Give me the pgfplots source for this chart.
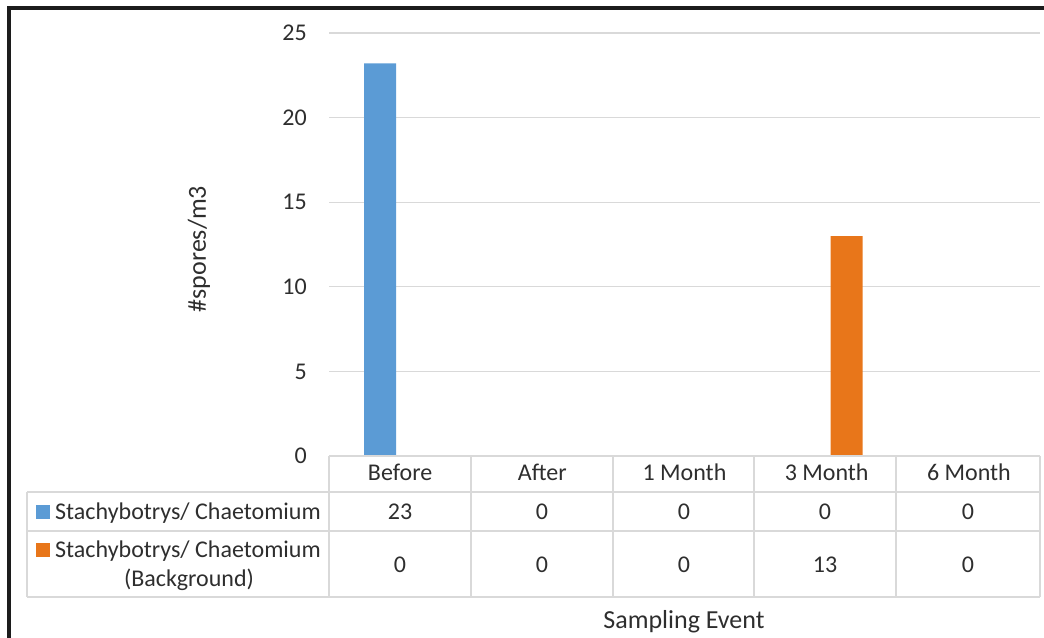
\documentclass[border=0pt]{standalone}
\usepackage{pgfplots}
\pgfplotsset{compat=1.18}
\usepackage{fontspec}
\setmainfont{Carlito}
\definecolor{bblue}{HTML}{5B9BD5}
\definecolor{borange}{HTML}{E8761A}
\definecolor{gridc}{HTML}{D9D9D9}
\definecolor{txt}{HTML}{2E2E2E}
\definecolor{frame}{HTML}{1C1C1C}
\newcommand{\tf}{\fontsize{24bp}{29bp}\selectfont}
\newcommand{\lf}{\fontsize{26bp}{31bp}\selectfont}
\begin{document}
\begin{tikzpicture}
\path[use as bounding box] (0,0) rectangle (1044bp,638bp);
\begin{axis}[
  at={(329bp,182bp)}, anchor=south west,
  scale only axis, width=711bp, height=423bp,
  xmin=-0.5, xmax=4.5, ymin=0, ymax=25,
  ybar=8bp, bar width=32bp,
  axis line style={draw=none},
  major tick length=0pt,
  xtick={0,1,2,3,4},
  xticklabels={Before,After,1 Month,3 Month,6 Month},
  ytick={0,5,10,15,20,25},
  /pgf/number format/assume math mode=true,
  ymajorgrids, grid style={gridc, line width=1.3bp},
  xticklabel style={anchor=base, yshift=-25bp, font=\tf, text=txt},
  yticklabel style={anchor=east, inner sep=0pt, xshift=-22bp, font=\tf, text=txt},
  clip=false,
]
\addplot[fill=bblue, draw=none] coordinates {(0,23.2) (1,0) (2,0) (3,0) (4,0)};
\addplot[fill=borange, draw=none] coordinates {(0,0) (1,0) (2,0) (3,13) (4,0)};
\end{axis}
\begin{scope}[x=1bp,y=1bp]
  % table grid
  \draw[gridc, line width=1.3bp] (329,182) -- (1040,182);
  \foreach \yy in {146,107,41} \draw[gridc, line width=1.3bp] (27,\yy) -- (1040,\yy);
  \foreach \xx in {329,471,613,754,896,1040} \draw[gridc, line width=1.3bp] (\xx,182) -- (\xx,41);
  \draw[gridc, line width=1.3bp] (27,146) -- (27,41);
  % legend keys
  \fill[bblue] (36,119) rectangle (50,133);
  \fill[borange] (36,81) rectangle (50,95);
  \node[anchor=base west, inner sep=0pt, font=\tf, text=txt] at (55,119) {Stachybotrys/ Chaetomium};
  \node[anchor=base west, inner sep=0pt, font=\tf, text=txt] at (55,81) {Stachybotrys/ Chaetomium};
  \node[anchor=base, inner sep=0pt, font=\tf, text=txt] at (189,52) {(Background)};
  % values
  \foreach \xx/\v in {400/23,542/0,684/0,825/0,968/0}
    \node[anchor=base, inner sep=0pt, font=\tf, text=txt] at (\xx,119) {\v};
  \foreach \xx/\v in {400/0,542/0,684/0,825/13,968/0}
    \node[anchor=base, inner sep=0pt, font=\tf, text=txt] at (\xx,66) {\v};
  % axis titles
  \node[anchor=base, inner sep=0pt, font=\lf, text=txt] at (684,10) {Sampling Event};
  \node[rotate=90, anchor=center, inner sep=0pt, font=\lf, text=txt] at (199,389) {\#spores/m3};
  % frame
  \draw[frame, line width=3.6bp, line join=miter] (9.2,0) -- (9.2,629.8) -- (1044,629.8);
\end{scope}
\end{tikzpicture}
\end{document}
